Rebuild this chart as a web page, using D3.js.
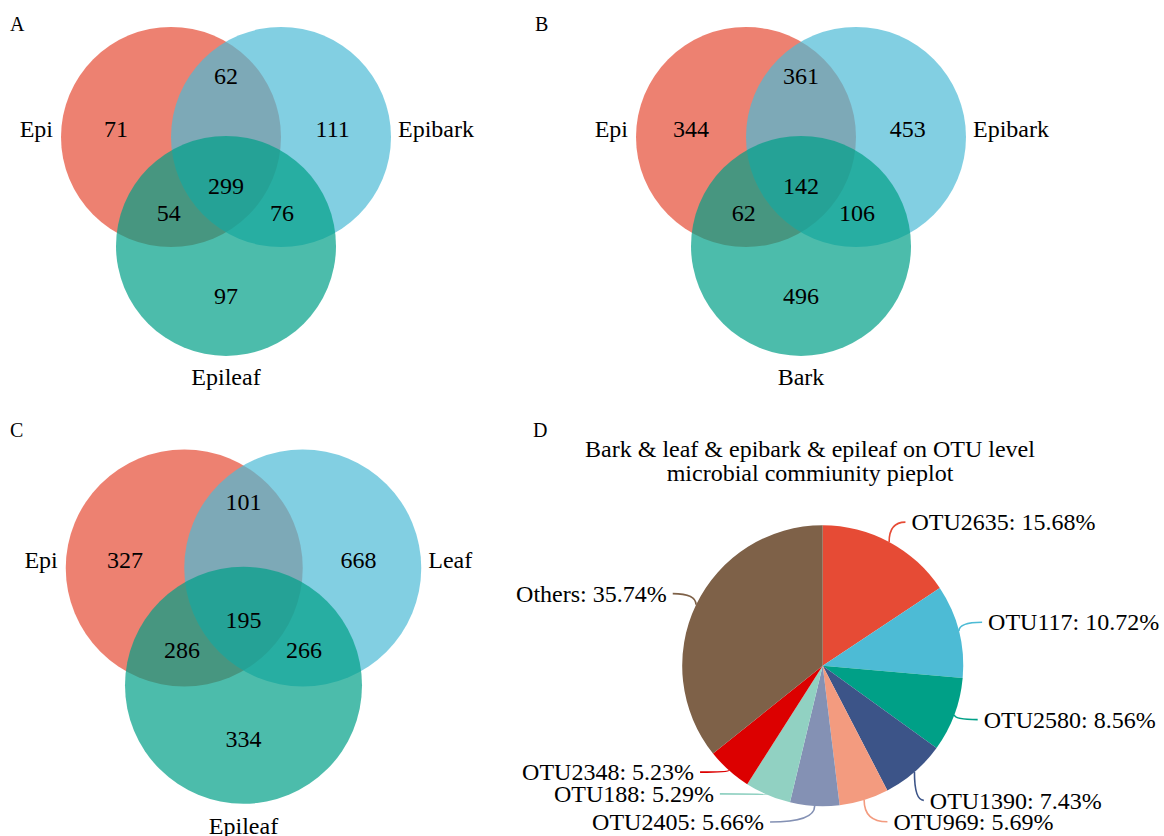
<!DOCTYPE html>
<html>
<head>
<meta charset="utf-8">
<script src="https://cdn.jsdelivr.net/npm/d3@7"></script>
<style>
  body { margin: 0; background: #fff; }
  svg { display: block; }
</style>
</head>
<body>
<svg id="fig" width="1164" height="836" font-family="'Liberation Serif', 'DejaVu Serif', serif"></svg>
<script>
// ---- Venn data: counts ordered as [only 1, 1&2, only 2, 1&2&3, 1&3, 2&3, only 3]
const setsA = ["Epi", "Epibark", "Epileaf"];
const countsA = [71, 62, 111, 299, 54, 76, 97];

const setsB = ["Epi", "Epibark", "Bark"];
const countsB = [344, 361, 453, 142, 62, 106, 496];

const setsC = ["Epi", "Leaf", "Epileaf"];
const countsC = [327, 101, 668, 195, 286, 266, 334];

// ---- Pie data
const pieTitle = ["Bark & leaf & epibark & epileaf on OTU level", "microbial commiunity pieplot"];
const otuNames = ["OTU2635", "OTU117", "OTU2580", "OTU1390", "OTU969", "OTU2405", "OTU188", "OTU2348", "Others"];
const otuShares = [15.68, 10.72, 8.56, 7.43, 5.69, 5.66, 5.29, 5.23, 35.74];

// ---- Styling / layout
const vennFills = ["#E64B35", "#4DBBD5", "#00A087"];
const pieFills = ["#E64B35", "#4DBBD5", "#00A087", "#3C5488", "#F39B7F", "#8491B4", "#91D1C2", "#DC0000", "#7E6148"];
const FONT = 24;
const SERIF = "'Liberation Serif', 'DejaVu Serif', serif";

// circle centres and region label anchors in units of the radius
const circleUnits = [[-0.5, 0], [0.5, 0], [0, 0.99]];
const regionUnits = [[-1.0, -0.07], [0, -0.56], [0.97, -0.07], [0, 0.44], [-0.52, 0.69], [0.51, 0.69], [0, 1.44]];

// repel offsets for the pie labels (px, relative to the 1.2r anchor)
const labelNudge = [[9, 5], [2, -2], [3, -5], [-3, 7], [21, -5], [-49, -12], [-43, -27], [-16, -19], [-4, 1]];

const svg = d3.select("#fig");
svg.append("rect").attr("width", 1164).attr("height", 836).attr("fill", "#fff");

function label(sel) {
  return sel.attr("font-family", SERIF).attr("fill", "#000");
}

function panelLetter(letter, x, y) {
  label(svg.append("text")).attr("x", x).attr("y", y).attr("font-size", 20).text(letter);
}

function venn(sets, counts, ox, oy, r) {
  const x = d3.scaleLinear().domain([0, 1]).range([ox, ox + r]);
  const y = d3.scaleLinear().domain([0, 1]).range([oy, oy + r]);
  const g = svg.append("g");

  g.selectAll("circle").data(circleUnits).join("circle")
    .attr("cx", d => x(d[0])).attr("cy", d => y(d[1])).attr("r", r)
    .attr("fill", (d, i) => vennFills[i]).attr("fill-opacity", 0.7);

  label(g.selectAll("text.count").data(counts).join("text"))
    .attr("class", "count")
    .attr("x", (d, i) => x(regionUnits[i][0]))
    .attr("y", (d, i) => y(regionUnits[i][1]))
    .attr("dy", "0.34em")
    .attr("text-anchor", "middle")
    .attr("font-size", FONT)
    .text(d => d);

  // set names: left, right and below the circles
  const lx = x(circleUnits[0][0] - 1) - 8;
  const rx = x(circleUnits[1][0] + 1) + 7;
  label(g.append("text")).attr("x", lx).attr("y", y(-0.07)).attr("dy", "0.34em")
    .attr("text-anchor", "end").attr("font-size", FONT).text(sets[0]);
  label(g.append("text")).attr("x", rx).attr("y", y(-0.07)).attr("dy", "0.34em")
    .attr("text-anchor", "start").attr("font-size", FONT).text(sets[1]);
  label(g.append("text")).attr("x", x(0)).attr("y", y(2.18)).attr("dy", "0.34em")
    .attr("text-anchor", "middle").attr("font-size", FONT).text(sets[2]);
}

panelLetter("A", 10, 31);
venn(setsA, countsA, 226, 137, 110);
panelLetter("B", 535, 31);
venn(setsB, countsB, 801, 137, 110);
panelLetter("C", 10, 437);
venn(setsC, countsC, 243.5, 568, 118.5);

// ---- Panel D: pie chart
panelLetter("D", 533, 437);
label(svg.selectAll("text.title").data(pieTitle).join("text"))
  .attr("class", "title")
  .attr("x", 810).attr("y", (d, i) => 457 + i * 24)
  .attr("text-anchor", "middle").attr("font-size", FONT)
  .text(d => d);

const cx = 822.7, cy = 665.7, R = 140.5;
const pieData = d3.pie().sort(null).value(d => d)(otuShares);
const arc = d3.arc().innerRadius(0).outerRadius(R);
const edgeArc = d3.arc().innerRadius(R).outerRadius(R);
const labelArc = d3.arc().innerRadius(R * 1.2).outerRadius(R * 1.2);

const pg = svg.append("g").attr("transform", `translate(${cx},${cy})`);
pg.selectAll("path.slice").data(pieData).join("path")
  .attr("class", "slice")
  .attr("d", arc)
  .attr("fill", (d, i) => pieFills[i]);

const labels = pieData.map((d, i) => {
  const mid = (d.startAngle + d.endAngle) / 2;
  const right = mid < Math.PI;
  const [ax, ay] = labelArc.centroid(d);
  const tx = ax + labelNudge[i][0];
  const ty = ay + labelNudge[i][1];
  const [sx, sy] = edgeArc.centroid(d);
  const ex = right ? tx - 6 : tx + 6;
  return { i, right, tx, ty, sx, sy, ex, ey: ty };
});

pg.selectAll("path.leader").data(labels).join("path")
  .attr("class", "leader")
  .attr("d", d => {
    const p = d3.path();
    p.moveTo(d.sx, d.sy);
    p.quadraticCurveTo(d.sx, d.ey, d.ex, d.ey);
    return p.toString();
  })
  .attr("fill", "none")
  .attr("stroke", d => pieFills[d.i])
  .attr("stroke-width", 1.6);

label(pg.selectAll("text.plabel").data(labels).join("text"))
  .attr("class", "plabel")
  .attr("x", d => d.tx).attr("y", d => d.ty).attr("dy", "0.34em")
  .attr("text-anchor", d => d.right ? "start" : "end")
  .attr("font-size", FONT)
  .text(d => `${otuNames[d.i]}: ${otuShares[d.i].toFixed(2)}%`);
</script>
</body>
</html>
